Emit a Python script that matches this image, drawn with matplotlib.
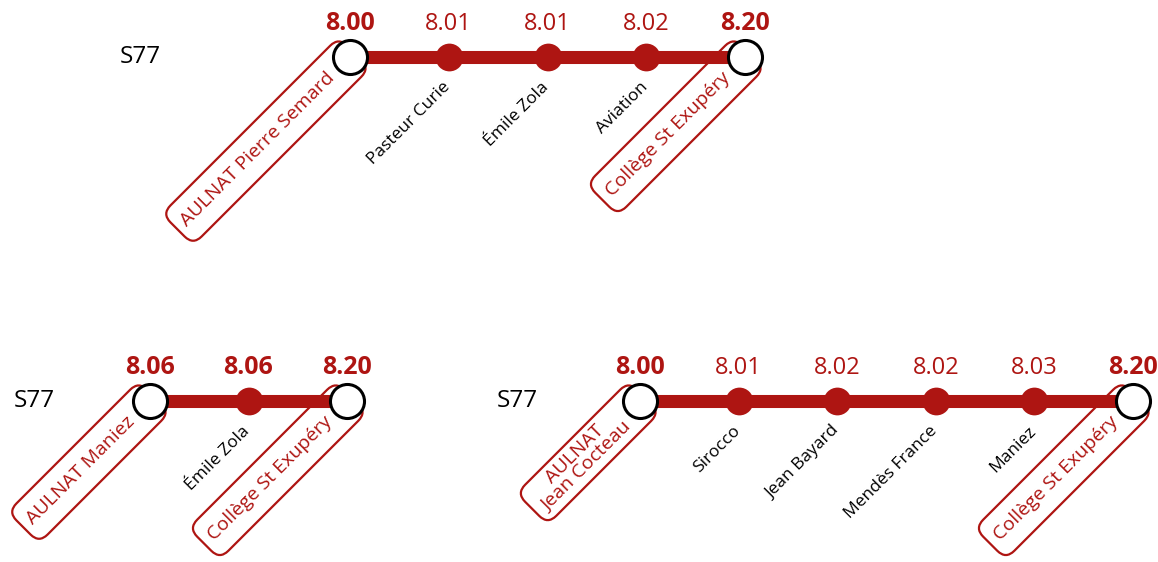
import numpy as np
import matplotlib.pyplot as plt
from matplotlib.patches import FancyBboxPatch
from matplotlib.transforms import Affine2D

plt.rcParams['font.family'] = ['Open Sans', 'DejaVu Sans']

RED = '#ae1512'

# route data
route_name = 'S77'

stops_a = ['AULNAT Pierre Semard', 'Pasteur Curie', 'Émile Zola', 'Aviation', 'Collège St Exupéry']
times_a = ['8.00', '8.01', '8.01', '8.02', '8.20']
bold_a = [True, False, False, False, True]

stops_b = ['AULNAT Maniez', 'Émile Zola', 'Collège St Exupéry']
times_b = ['8.06', '8.06', '8.20']
bold_b = [True, True, True]

stops_c = ['AULNAT\nJean Cocteau', 'Sirocco', 'Jean Bayard', 'Mendès France', 'Maniez', 'Collège St Exupéry']
times_c = ['8.00', '8.01', '8.02', '8.02', '8.03', '8.20']
bold_c = [True, False, False, False, False, True]

# layout (pixels): x of first stop, x of last stop, y of line, x of route label
layout = [
    (stops_a, times_a, bold_a, 350, 745, 57, 120),
    (stops_b, times_b, bold_b, 150, 347, 401, 14),
    (stops_c, times_c, bold_c, 640, 1133, 401, 497),
]

fig = plt.figure(figsize=(11.58, 5.62), dpi=100)
ax = fig.add_axes([0, 0, 1, 1])
ax.set_xlim(0, 1158)
ax.set_ylim(562, 0)
ax.axis('off')
renderer = fig.canvas.get_renderer()

s2 = np.sqrt(2) / 2


def local(x0, y0):
    # u runs along the 45 deg text, v is the text's "up"
    return Affine2D(np.array([[s2, -s2, x0], [-s2, -s2, y0], [0, 0, 1]]))


def terminal_box(x0, y0, label):
    tr = local(x0, y0)
    gap = 25
    ux, uy = tr.transform((-gap, 0))
    t = ax.text(ux, uy, label, color=RED, fontsize=14, ha='right', va='center',
                multialignment='center', rotation=0, rotation_mode='anchor',
                linespacing=0.95, zorder=2)
    w = t.get_window_extent(renderer).width
    t.set_rotation(45)
    box = FancyBboxPatch((-gap - w - 9, -22), w + gap + 9 + 6, 44,
                         boxstyle='round,pad=0,rounding_size=12',
                         fc='white', ec=RED, lw=1.6,
                         transform=tr + ax.transData, zorder=1)
    ax.add_patch(box)


for stops, times, bold, xs, xe, y, xl in layout:
    xp = np.linspace(xs, xe, len(stops))
    ax.plot([xp[0], xp[-1]], [y, y], color=RED, lw=9.4, solid_capstyle='butt', zorder=3)
    ax.plot(xp[1:-1], [y] * (len(xp) - 2), 'o', color=RED, ms=20, mew=0, zorder=4)
    ax.plot([xp[0], xp[-1]], [y, y], 'o', mfc='white', mec='black', ms=24.5, mew=2.2, zorder=5)
    ax.text(xl, y, route_name, fontsize=17.5, ha='left', va='center', color='black')
    for i, (name, tm, b) in enumerate(zip(stops, times, bold)):
        ax.text(xp[i], y - 33, tm, fontsize=18 if b else 17, ha='center', va='center',
                color=RED, fontweight='bold' if b else 'normal')
        if i == 0 or i == len(stops) - 1:
            terminal_box(xp[i], y, name)
        else:
            ux, uy = local(xp[i], y).transform((-20, -23))
            ax.text(ux, uy, name, fontsize=12.5, ha='right', va='baseline', color='black',
                    rotation=45, rotation_mode='anchor')

fig.savefig('out.png', dpi=100)
